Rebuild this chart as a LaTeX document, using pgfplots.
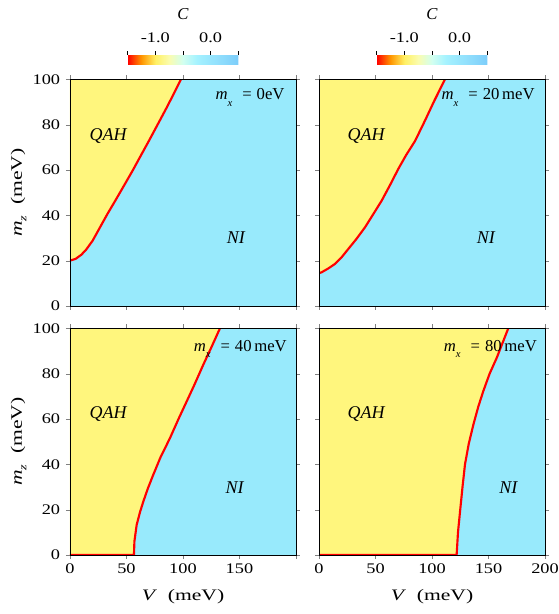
\documentclass[border=0pt]{standalone}
\usepackage{fontspec}
\setmainfont{Liberation Serif}
\usepackage{graphicx}
\usepackage{pgfplots}
\pgfplotsset{compat=1.18}

\definecolor{qahyellow}{RGB}{255,246,125}
\definecolor{niblue}{RGB}{152,234,252}
\definecolor{bdred}{RGB}{255,0,0}

\newcommand{\mz}{\textit{m}\raisebox{-0.6ex}{\footnotesize\textit{z}}}
\newcommand{\mx}{\textit{m}\raisebox{-0.8ex}{\footnotesize\textit{x}}}
\newcommand{\wide}[1]{\scalebox{1.35}[1]{#1}}
\newcommand{\mxval}[1]{\mx\hspace{0.6em}=\hspace{0.3em}#1}

\tikzset{
  bd/.style={bdred, line width=1.6pt},
  ann/.style={font=\fontsize{13.5}{15}\selectfont},
  mxl/.style={font=\fontsize{12.5}{14}\selectfont, anchor=east},
}

\pgfplotsset{
  panel/.style={
    scale only axis, width=169.5pt, height=170pt,
    xmin=0, xmax=200, ymin=0, ymax=100,
    xtick={0,50,100,150,200}, ytick={0,20,40,60,80,100},
    xtick pos=both, ytick pos=both,
    tick align=outside, major tick length=3pt,
    axis background/.style={fill=niblue},
    axis on top, clip=true,
    tick label style={font=\fontsize{11}{13}\selectfont, xscale=1.25},
    label style={font=\fontsize{12}{14}\selectfont},
    xlabel shift=5pt, ylabel shift=-3pt,
    /pgf/number format/assume math mode=true,
  },
  cbar/.style={
    colormap={cmapC}{rgb255(0)=(255,0,0) rgb255(1)=(255,150,0) rgb255(2)=(255,240,100)
      rgb255(3)=(250,252,175) rgb255(4)=(210,255,240) rgb255(5)=(165,242,255) rgb255(8)=(125,205,250)},
    point meta min=-1.5, point meta max=0.5,
    colorbar horizontal,
    colorbar style={
      at={(0.5,1.066)}, anchor=south,
      scale only axis, width=83pt, height=6.75pt,
      axis x line*=top, axis y line=none,
      x axis line style={draw=none},
      xtick={-1.5,-1,-0.5,0,0.5}, xticklabels={,-1.0,,0.0,},
      xticklabel pos=upper, tick align=outside,
      major tick length=3pt,
      every tick/.style={draw=black, line width=0.5pt},
      ytick=\empty,
      tick label style={font=\fontsize{11}{13}\selectfont, xscale=1.25},
      xticklabel style={yshift=3pt},
      /pgf/number format/assume math mode=true,
      title={\textit{C}},
      title style={font=\fontsize{12.5}{14}\selectfont, at={(0.5,1)}, anchor=south, yshift=17pt},
    },
  },
}

\begin{document}
\begin{tikzpicture}

% top left: m_x = 0
\begin{axis}[panel, cbar, at={(0pt,186.75pt)}, xticklabels={}, ylabel={\wide{\mz\ \ (meV)}}]
\addplot[fill=qahyellow, draw=none] coordinates {
  (0,20)(5,20.8)(10,22.6)(14.2,24.8)(20,28.8)(26,34.2)(33,40.5)(40.7,47)(48,53.3)(55.5,59.8)(62.5,66.2)(70.2,73.2)(77.5,80)(85,87)(91.5,93.3)(98.2,100)(0,100)};
\addplot[bd] coordinates {
  (0,20)(5,20.8)(10,22.6)(14.2,24.8)(20,28.8)(26,34.2)(33,40.5)(40.7,47)(48,53.3)(55.5,59.8)(62.5,66.2)(70.2,73.2)(77.5,80)(85,87)(91.5,93.3)(98.2,100)};
\node[ann] at (axis cs:34,75) {\textit{QAH}};
\node[ann] at (axis cs:147,30) {\textit{NI}};
\node[mxl] at (axis cs:194,92) {\mxval{0eV}};
\end{axis}

% top right: m_x = 20
\begin{axis}[panel, cbar, at={(186.75pt,186.75pt)}, xticklabels={}, yticklabels={}]
\addplot[fill=qahyellow, draw=none] coordinates {
  (0,14.5)(2.4,14.9)(8,16.5)(14,18.5)(20,21.5)(26,25.2)(33,29.5)(40.7,34.7)(48,40.5)(55.5,46.5)(63,53.5)(70.2,60.5)(77,66.5)(85,72.8)(93.8,81.8)(102,90.5)(111.5,100)(0,100)};
\addplot[bd] coordinates {
  (0,14.5)(2.4,14.9)(8,16.5)(14,18.5)(20,21.5)(26,25.2)(33,29.5)(40.7,34.7)(48,40.5)(55.5,46.5)(63,53.5)(70.2,60.5)(77,66.5)(85,72.8)(93.8,81.8)(102,90.5)(111.5,100)};
\node[ann] at (axis cs:42,75) {\textit{QAH}};
\node[ann] at (axis cs:148,30) {\textit{NI}};
\node[mxl] at (axis cs:195,92) {\mxval{20\,meV}};
\end{axis}

% bottom left: m_x = 40
\begin{axis}[panel, at={(0pt,0pt)}, xticklabels={0,50,100,150,{}},
  xlabel={\wide{\textit{V}\ \ (meV)}}, ylabel={\wide{\mz\ \ (meV)}}]
\addplot[fill=qahyellow, draw=none] coordinates {
  (0,0)(56.6,0)(57,6)(59,13.3)(62,19)(64.9,23.6)(69,29.5)(73.7,35.4)(80,43)(88.5,51.6)(96,60)(103.3,67.8)(110,75)(118,84)(125,91.5)(132.7,100)(0,100)};
\addplot[bd] coordinates {
  (0,0)(56.6,0)(57,6)(59,13.3)(62,19)(64.9,23.6)(69,29.5)(73.7,35.4)(80,43)(88.5,51.6)(96,60)(103.3,67.8)(110,75)(118,84)(125,91.5)(132.7,100)};
\node[ann] at (axis cs:34,62) {\textit{QAH}};
\node[ann] at (axis cs:146,29.6) {\textit{NI}};
\node[mxl] at (axis cs:196,91) {\mxval{40\,meV}};
\end{axis}

% bottom right: m_x = 80
\begin{axis}[panel, at={(186.75pt,0pt)}, yticklabels={},
  xlabel={\wide{\textit{V}\ \ (meV)}}]
\addplot[fill=qahyellow, draw=none] coordinates {
  (0,0)(121.8,0)(123,10)(124.8,19.1)(127,30)(129.2,40)(132.5,49)(136.6,57.5)(141,65.5)(145.4,72.3)(151,80)(157.3,87)(162,93)(167.5,100)(0,100)};
\addplot[bd] coordinates {
  (0,0)(121.8,0)(123,10)(124.8,19.1)(127,30)(129.2,40)(132.5,49)(136.6,57.5)(141,65.5)(145.4,72.3)(151,80)(157.3,87)(162,93)(167.5,100)};
\node[ann] at (axis cs:42,62) {\textit{QAH}};
\node[ann] at (axis cs:168,29.6) {\textit{NI}};
\node[mxl] at (axis cs:197,91) {\mxval{80\,meV}};
\end{axis}

\pgfresetboundingbox
\path (-52.5pt,-44.25pt) rectangle (366.75pt,416.25pt);
\end{tikzpicture}
\end{document}
